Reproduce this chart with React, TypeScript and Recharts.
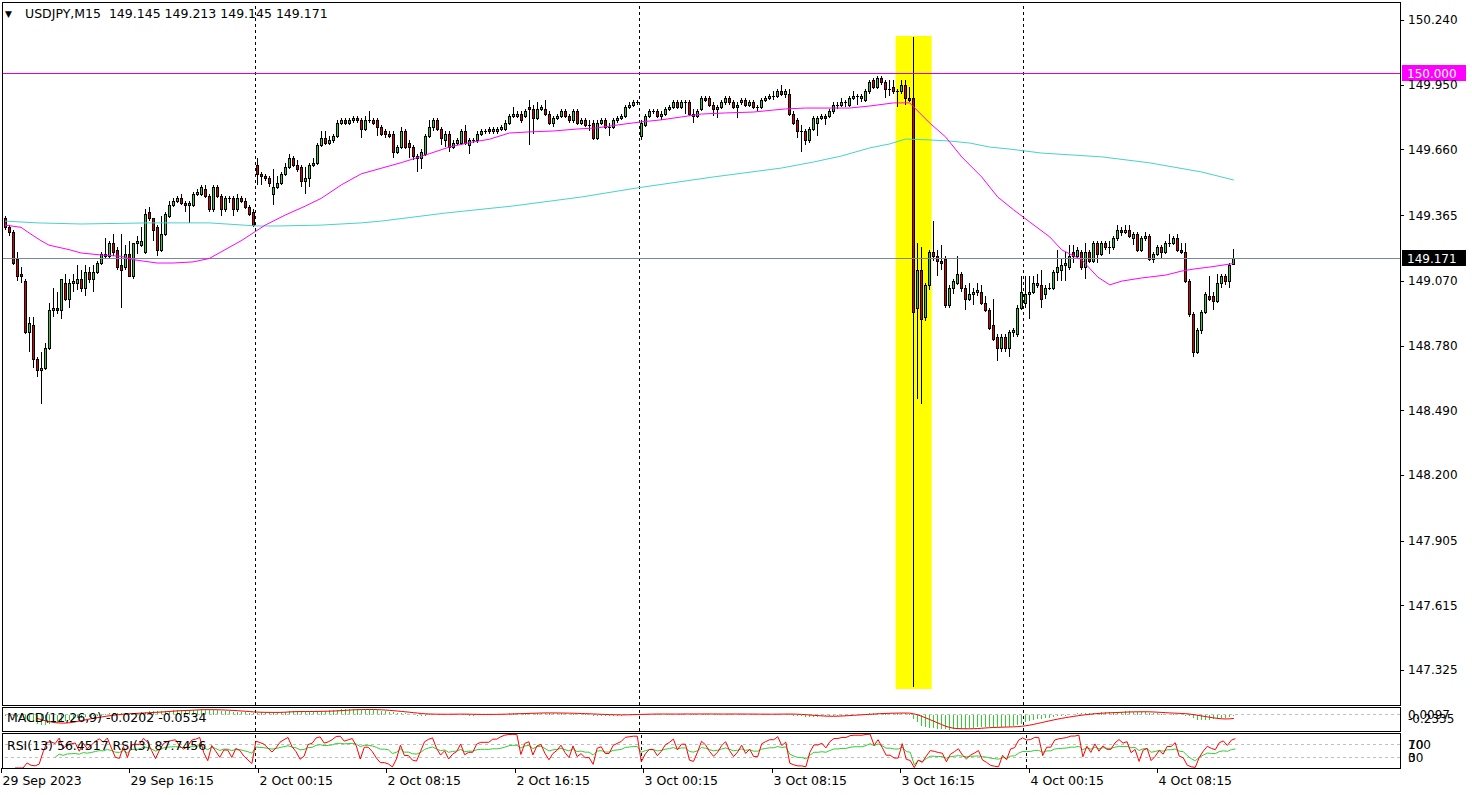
import React from 'react';
import { ComposedChart, Bar, Line, XAxis, YAxis, ReferenceLine, ReferenceArea } from 'recharts';

// USDJPY M15 candles (bar 0 = 29 Sep 08:15)
const opens = [
  149.35, 149.31, 149.29, 149.17, 149.10, 149.07, 148.84, 148.87, 148.72, 148.67,
  148.68, 148.77, 148.94, 148.95, 148.94, 149.06, 148.99, 149.06, 149.06, 149.08,
  149.04, 149.11, 149.08, 149.11, 149.15, 149.19, 149.18, 149.24, 149.21, 149.14,
  149.13, 149.19, 149.09, 149.24, 149.23, 149.20, 149.38, 149.35, 149.31, 149.21,
  149.28, 149.36, 149.41, 149.43, 149.44, 149.42, 149.41, 149.41, 149.46, 149.46,
  149.48, 149.45, 149.39, 149.49, 149.45, 149.39, 149.44, 149.44, 149.39, 149.44,
  149.43, 149.40, 149.38, 149.59, 149.55, 149.54, 149.53, 149.46, 149.49, 149.51,
  149.55, 149.58, 149.62, 149.59, 149.58, 149.52, 149.53, 149.59, 149.60, 149.68,
  149.71, 149.69, 149.70, 149.72, 149.78, 149.79, 149.78, 149.79, 149.80, 149.79,
  149.75, 149.79, 149.79, 149.79, 149.76, 149.74, 149.73, 149.73, 149.65, 149.67,
  149.74, 149.69, 149.67, 149.63, 149.62, 149.64, 149.72, 149.76, 149.79, 149.75,
  149.70, 149.73, 149.67, 149.69, 149.69, 149.74, 149.68, 149.70, 149.70, 149.73,
  149.74, 149.75, 149.74, 149.74, 149.75, 149.75, 149.78, 149.81, 149.81, 149.82,
  149.81, 149.85, 149.84, 149.80, 149.84, 149.84, 149.82, 149.78, 149.80, 149.81,
  149.83, 149.81, 149.79, 149.83, 149.78, 149.79, 149.77, 149.78, 149.71, 149.78,
  149.79, 149.76, 149.76, 149.79, 149.80, 149.81, 149.85, 149.86, 149.87, 149.72,
  149.77, 149.81, 149.83, 149.83, 149.81, 149.82, 149.84, 149.85, 149.87, 149.85,
  149.87, 149.87, 149.82, 149.81, 149.84, 149.89, 149.89, 149.86, 149.84, 149.85,
  149.87, 149.89, 149.87, 149.85, 149.87, 149.88, 149.86, 149.87, 149.85, 149.85,
  149.88, 149.89, 149.90, 149.90, 149.92, 149.91, 149.91, 149.82, 149.79, 149.74,
  149.74, 149.70, 149.75, 149.78, 149.80, 149.81, 149.81, 149.83, 149.86, 149.86,
  149.87, 149.86, 149.89, 149.90, 149.89, 149.88, 149.92, 149.97, 149.94, 149.98,
  149.96, 149.93, 149.94, 149.92, 149.92, 149.95, 149.89, 149.89, 148.95, 149.12,
  148.91, 149.05, 149.20, 149.18, 149.16, 149.17, 148.96, 149.04, 149.06, 149.10,
  149.04, 148.99, 149.01, 149.02, 149.02, 148.97, 148.94, 148.87, 148.82, 148.77,
  148.82, 148.77, 148.84, 148.83, 148.95, 148.97, 149.01, 149.02, 149.05, 149.05,
  149.01, 149.04, 149.04, 149.11, 149.12, 149.14, 149.13, 149.20, 149.18, 149.20,
  149.13, 149.20, 149.16, 149.24, 149.19, 149.24, 149.22, 149.22, 149.26, 149.30,
  149.29, 149.30, 149.26, 149.28, 149.21, 149.26, 149.27, 149.17, 149.19, 149.22,
  149.20, 149.24, 149.24, 149.26, 149.21, 149.20, 149.07, 148.92, 148.75, 148.85,
  148.93, 149.00, 149.00, 148.98, 149.06, 149.09, 149.07, 149.145,
];

const highs = [
  149.36, 149.32, 149.30, 149.20, 149.13, 149.08, 148.91, 148.91, 148.73, 148.75,
  148.79, 148.97, 149.04, 149.02, 149.08, 149.10, 149.08, 149.10, 149.14, 149.12,
  149.14, 149.13, 149.14, 149.16, 149.20, 149.26, 149.25, 149.28, 149.22, 149.28,
  149.23, 149.25, 149.24, 149.27, 149.31, 149.39, 149.40, 149.35, 149.32, 149.36,
  149.38, 149.43, 149.44, 149.45, 149.46, 149.43, 149.43, 149.47, 149.48, 149.50,
  149.50, 149.46, 149.50, 149.50, 149.46, 149.45, 149.45, 149.45, 149.46, 149.45,
  149.44, 149.41, 149.39, 149.62, 149.56, 149.55, 149.54, 149.57, 149.54, 149.56,
  149.60, 149.64, 149.63, 149.61, 149.59, 149.58, 149.60, 149.62, 149.69, 149.74,
  149.74, 149.72, 149.73, 149.79, 149.80, 149.80, 149.80, 149.81, 149.81, 149.80,
  149.81, 149.83, 149.80, 149.80, 149.77, 149.75, 149.74, 149.74, 149.68, 149.76,
  149.75, 149.70, 149.68, 149.64, 149.66, 149.73, 149.79, 149.80, 149.80, 149.76,
  149.74, 149.74, 149.70, 149.71, 149.75, 149.77, 149.71, 149.71, 149.74, 149.75,
  149.75, 149.76, 149.76, 149.76, 149.77, 149.79, 149.82, 149.85, 149.83, 149.83,
  149.84, 149.88, 149.86, 149.87, 149.86, 149.88, 149.83, 149.81, 149.82, 149.84,
  149.84, 149.82, 149.84, 149.84, 149.80, 149.80, 149.79, 149.79, 149.79, 149.80,
  149.80, 149.78, 149.80, 149.81, 149.82, 149.86, 149.87, 149.88, 149.88, 149.79,
  149.82, 149.84, 149.84, 149.84, 149.83, 149.85, 149.86, 149.88, 149.88, 149.88,
  149.88, 149.88, 149.84, 149.84, 149.90, 149.90, 149.90, 149.87, 149.86, 149.88,
  149.90, 149.90, 149.88, 149.87, 149.89, 149.89, 149.88, 149.88, 149.86, 149.89,
  149.90, 149.91, 149.92, 149.93, 149.95, 149.93, 149.93, 149.83, 149.80, 149.77,
  149.75, 149.76, 149.81, 149.81, 149.82, 149.82, 149.84, 149.87, 149.87, 149.89,
  149.88, 149.90, 149.92, 149.91, 149.91, 149.93, 149.97, 149.98, 149.99, 149.99,
  149.97, 149.97, 149.97, 149.93, 149.97, 149.97, 149.94, 150.165, 149.24, 149.22,
  149.06, 149.21, 149.34, 149.21, 149.23, 149.18, 149.05, 149.08, 149.18, 149.11,
  149.05, 149.06, 149.04, 149.06, 149.05, 149.00, 148.95, 148.99, 148.83, 148.83,
  148.83, 148.85, 148.86, 148.96, 149.09, 149.09, 149.09, 149.09, 149.10, 149.12,
  149.05, 149.06, 149.12, 149.21, 149.17, 149.20, 149.23, 149.23, 149.22, 149.21,
  149.24, 149.21, 149.25, 149.25, 149.25, 149.25, 149.25, 149.27, 149.32, 149.31,
  149.32, 149.32, 149.29, 149.29, 149.27, 149.29, 149.28, 149.20, 149.23, 149.23,
  149.25, 149.28, 149.27, 149.28, 149.24, 149.24, 149.08, 148.93, 148.86, 148.94,
  149.02, 149.09, 149.02, 149.10, 149.10, 149.10, 149.15, 149.213,
];

const lows = [
  149.30, 149.27, 149.14, 149.07, 149.06, 148.83, 148.75, 148.68, 148.64, 148.52,
  148.67, 148.76, 148.91, 148.92, 148.90, 148.98, 148.95, 149.02, 149.03, 149.02,
  149.00, 149.06, 149.02, 149.10, 149.14, 149.17, 149.17, 149.18, 149.12, 148.95,
  149.12, 149.09, 149.08, 149.19, 149.22, 149.19, 149.34, 149.25, 149.18, 149.20,
  149.27, 149.35, 149.40, 149.42, 149.41, 149.38, 149.33, 149.40, 149.45, 149.45,
  149.44, 149.38, 149.38, 149.44, 149.36, 149.38, 149.42, 149.36, 149.38, 149.42,
  149.39, 149.36, 149.31, 149.50, 149.50, 149.52, 149.49, 149.41, 149.48, 149.50,
  149.54, 149.57, 149.58, 149.56, 149.49, 149.46, 149.49, 149.58, 149.59, 149.67,
  149.68, 149.68, 149.69, 149.71, 149.77, 149.77, 149.77, 149.78, 149.78, 149.71,
  149.74, 149.78, 149.77, 149.72, 149.72, 149.71, 149.71, 149.62, 149.64, 149.66,
  149.66, 149.62, 149.61, 149.56, 149.57, 149.63, 149.71, 149.74, 149.74, 149.68,
  149.67, 149.65, 149.66, 149.68, 149.68, 149.68, 149.64, 149.69, 149.69, 149.72,
  149.73, 149.73, 149.73, 149.73, 149.74, 149.74, 149.77, 149.80, 149.80, 149.78,
  149.80, 149.68, 149.73, 149.79, 149.83, 149.81, 149.77, 149.76, 149.79, 149.80,
  149.80, 149.78, 149.78, 149.77, 149.77, 149.76, 149.74, 149.70, 149.70, 149.77,
  149.75, 149.72, 149.75, 149.78, 149.79, 149.80, 149.84, 149.85, 149.86, 149.70,
  149.76, 149.80, 149.82, 149.80, 149.79, 149.81, 149.83, 149.84, 149.84, 149.84,
  149.82, 149.81, 149.78, 149.80, 149.83, 149.87, 149.85, 149.81, 149.80, 149.84,
  149.86, 149.86, 149.84, 149.80, 149.86, 149.85, 149.85, 149.84, 149.83, 149.84,
  149.87, 149.88, 149.88, 149.89, 149.90, 149.89, 149.81, 149.77, 149.71, 149.65,
  149.68, 149.69, 149.74, 149.72, 149.79, 149.77, 149.80, 149.82, 149.84, 149.85,
  149.85, 149.85, 149.88, 149.86, 149.87, 149.87, 149.91, 149.93, 149.93, 149.95,
  149.89, 149.90, 149.91, 149.85, 149.91, 149.86, 149.87, 147.25, 148.54, 148.52,
  148.89, 149.03, 149.16, 149.09, 149.12, 148.95, 148.95, 149.01, 149.05, 149.02,
  148.94, 148.98, 148.96, 149.00, 148.96, 148.93, 148.85, 148.80, 148.71, 148.75,
  148.75, 148.73, 148.82, 148.82, 148.94, 148.95, 148.90, 149.01, 149.04, 148.95,
  148.99, 149.03, 149.03, 149.07, 149.07, 149.07, 149.12, 149.15, 149.17, 149.12,
  149.08, 149.15, 149.15, 149.15, 149.18, 149.21, 149.19, 149.21, 149.25, 149.27,
  149.28, 149.26, 149.23, 149.20, 149.20, 149.25, 149.16, 149.15, 149.18, 149.17,
  149.19, 149.22, 149.23, 149.20, 149.19, 149.06, 148.91, 148.73, 148.74, 148.83,
  148.92, 148.98, 148.94, 148.97, 149.04, 149.05, 149.04, 149.145,
];

const closes = [
  149.31, 149.29, 149.15, 149.09, 149.09, 148.84, 148.88, 148.72, 148.67, 148.68,
  148.77, 148.94, 148.95, 148.94, 149.08, 148.99, 149.06, 149.07, 149.08, 149.04,
  149.11, 149.08, 149.11, 149.15, 149.19, 149.18, 149.24, 149.20, 149.13, 149.12,
  149.19, 149.09, 149.24, 149.25, 149.25, 149.37, 149.35, 149.30, 149.21, 149.28,
  149.37, 149.41, 149.43, 149.44, 149.42, 149.41, 149.42, 149.46, 149.47, 149.49,
  149.45, 149.39, 149.49, 149.45, 149.39, 149.44, 149.44, 149.39, 149.44, 149.43,
  149.40, 149.37, 149.32, 149.55, 149.54, 149.53, 149.51, 149.49, 149.51, 149.55,
  149.58, 149.62, 149.59, 149.57, 149.52, 149.53, 149.59, 149.60, 149.68, 149.71,
  149.69, 149.70, 149.72, 149.78, 149.79, 149.78, 149.79, 149.80, 149.79, 149.75,
  149.79, 149.79, 149.78, 149.76, 149.73, 149.73, 149.72, 149.65, 149.67, 149.74,
  149.67, 149.67, 149.63, 149.62, 149.65, 149.72, 149.76, 149.79, 149.75, 149.71,
  149.73, 149.67, 149.69, 149.70, 149.74, 149.69, 149.70, 149.70, 149.73, 149.74,
  149.74, 149.74, 149.75, 149.75, 149.76, 149.78, 149.81, 149.82, 149.82, 149.79,
  149.83, 149.84, 149.80, 149.84, 149.85, 149.82, 149.78, 149.80, 149.81, 149.83,
  149.81, 149.79, 149.83, 149.78, 149.79, 149.77, 149.77, 149.71, 149.78, 149.79,
  149.76, 149.76, 149.79, 149.80, 149.81, 149.85, 149.86, 149.87, 149.87, 149.78,
  149.81, 149.83, 149.83, 149.81, 149.82, 149.84, 149.85, 149.87, 149.85, 149.87,
  149.87, 149.82, 149.81, 149.83, 149.89, 149.88, 149.86, 149.84, 149.85, 149.87,
  149.89, 149.87, 149.85, 149.86, 149.88, 149.86, 149.87, 149.85, 149.85, 149.88,
  149.89, 149.90, 149.90, 149.92, 149.91, 149.92, 149.82, 149.78, 149.74, 149.74,
  149.70, 149.75, 149.80, 149.80, 149.81, 149.80, 149.83, 149.86, 149.86, 149.87,
  149.87, 149.89, 149.90, 149.90, 149.90, 149.92, 149.96, 149.94, 149.98, 149.96,
  149.93, 149.93, 149.92, 149.92, 149.95, 149.89, 149.88, 148.93, 149.12, 148.90,
  149.05, 149.20, 149.18, 149.16, 149.15, 148.96, 149.04, 149.07, 149.10, 149.04,
  148.99, 149.01, 149.02, 149.03, 148.97, 148.94, 148.86, 148.81, 148.77, 148.82,
  148.77, 148.84, 148.85, 148.95, 149.02, 149.01, 149.02, 149.06, 149.06, 148.99,
  149.04, 149.04, 149.11, 149.13, 149.14, 149.15, 149.18, 149.18, 149.21, 149.13,
  149.20, 149.16, 149.24, 149.19, 149.24, 149.22, 149.22, 149.26, 149.30, 149.29,
  149.30, 149.27, 149.28, 149.21, 149.26, 149.27, 149.17, 149.19, 149.22, 149.20,
  149.24, 149.24, 149.26, 149.21, 149.20, 149.07, 148.92, 148.75, 148.85, 148.93,
  149.01, 148.99, 148.98, 149.06, 149.09, 149.07, 149.14, 149.171,
];

// moving averages as drawn on the chart: [bar, price]
const maFastPts: [number, number][] = [
  [0, 149.32], [4, 149.31], [6, 149.285], [9, 149.25], [11, 149.23], [16, 149.21], [19, 149.195],
  [24, 149.186], [29, 149.18], [32, 149.165], [38, 149.15], [42, 149.15], [47, 149.155], [51, 149.17],
  [59, 149.25], [65, 149.32], [70, 149.365], [75, 149.405], [79, 149.44], [84, 149.5], [89, 149.55],
  [94, 149.575], [99, 149.6], [102, 149.617], [106, 149.64], [111, 149.67], [116, 149.69], [121, 149.705],
  [126, 149.733], [131, 149.738], [137, 149.742], [143, 149.751], [148, 149.756], [153, 149.769],
  [159, 149.783], [164, 149.792], [169, 149.805], [174, 149.818], [180, 149.823], [187, 149.827],
  [192, 149.836], [195, 149.841], [200, 149.845], [211, 149.845], [216, 149.854], [222, 149.868],
  [226, 149.868], [227, 149.85], [231, 149.778], [235, 149.715], [239, 149.626], [244, 149.536],
  [248, 149.446], [252, 149.388], [256, 149.334], [261, 149.267], [264, 149.209], [269, 149.164],
  [273, 149.087], [276, 149.052], [279, 149.069], [284, 149.083], [290, 149.096], [294, 149.114],
  [297, 149.123], [301, 149.132], [307, 149.148],
];

const maSlowPts: [number, number][] = [
  [0, 149.338], [8, 149.33], [19, 149.325], [36, 149.33], [51, 149.33], [63, 149.316], [68, 149.316],
  [79, 149.32], [89, 149.33], [94, 149.338], [110, 149.374], [127, 149.406], [144, 149.446],
  [158, 149.487], [177, 149.536], [194, 149.576], [202, 149.603], [209, 149.63], [216, 149.666],
  [221, 149.684], [225, 149.706], [231, 149.702], [236, 149.697], [241, 149.688], [246, 149.67],
  [251, 149.661], [259, 149.643], [274, 149.626], [286, 149.599], [299, 149.558], [307, 149.522],
];

const tickBars = [0, 32, 64, 96, 128, 160, 192, 224, 256, 288];
const tickLabels = [
  '29 Sep 2023', '29 Sep 16:15', '2 Oct 00:15', '2 Oct 08:15', '2 Oct 16:15',
  '3 Oct 00:15', '3 Oct 08:15', '3 Oct 16:15', '4 Oct 00:15', '4 Oct 08:15',
];
const daySeparators = [63, 159, 255];
const priceTicks = [150.24, 149.95, 149.66, 149.365, 149.07, 148.78, 148.49, 148.2, 147.905, 147.615, 147.325];
const roundLevel = 150.0;
const bidPrice = 149.171;
const highlightBars = [223, 231];
const highlightPrices = [147.24, 150.168];

const FONT = '"DejaVu Sans", Verdana, sans-serif';
const GREEN = '#32cd32';
const RED = '#e00000';
const W = 1472;
const AXIS_W = 72;
const SLOTS = 349;

// indicators (MACD 12/26/9, RSI 13 and 3) from the closes
const emaOf = (src: number[], p: number) => {
  const k = 2 / (p + 1);
  const out: number[] = [];
  src.forEach((v, i) => out.push(i === 0 ? v : v * k + out[i - 1] * (1 - k)));
  return out;
};
const ema12 = emaOf(closes, 12);
const ema26 = emaOf(closes, 26);
const macd = closes.map((_, i) => ema12[i] - ema26[i]);
const signal = macd.map((_, i) => (i < 8 ? null : macd.slice(i - 8, i + 1).reduce((a, b) => a + b, 0) / 9));

const rsiOf = (src: number[], p: number) => {
  const out: (number | null)[] = src.map(() => null);
  let g = 0;
  let l = 0;
  for (let i = 1; i < src.length; i++) {
    const d = src[i] - src[i - 1];
    const up = Math.max(d, 0);
    const dn = Math.max(-d, 0);
    if (i <= p) {
      g += up / p;
      l += dn / p;
      if (i < p) continue;
    } else {
      g = (g * (p - 1) + up) / p;
      l = (l * (p - 1) + dn) / p;
    }
    out[i] = l === 0 ? 100 : 100 - 100 / (1 + g / l);
  }
  return out;
};
const rsi13 = rsiOf(closes, 13);
const rsi3 = rsiOf(closes, 3);

const fastMap = new Map(maFastPts);
const slowMap = new Map(maSlowPts);

const data = Array.from({ length: SLOTS }, (_, i) => {
  if (i >= closes.length) return { i };
  return {
    i,
    o: opens[i],
    h: highs[i],
    l: lows[i],
    c: closes[i],
    maF: fastMap.get(i) ?? null,
    maS: slowMap.get(i) ?? null,
    macd: macd[i],
    sig: signal[i],
    rsi13: rsi13[i],
    rsi3: rsi3[i],
  };
});

const Candle = (props: any) => {
  const { x, y, width, height, payload } = props;
  if (!payload || payload.o == null) return null;
  const top = Math.min(y, y + height);
  const bot = Math.max(y, y + height);
  const span = payload.h - payload.l;
  const py = (v: number) => Math.round(top + ((payload.h - v) / span) * (bot - top));
  const x0 = Math.round(x + width / 2 - 1.5);
  const yo = py(payload.o);
  const yc = py(payload.c);
  const bTop = Math.min(yo, yc);
  const bH = Math.abs(yc - yo);
  const up = payload.c >= payload.o;
  return (
    <g shapeRendering="crispEdges">
      <rect x={x0 + 1} y={Math.round(top)} width={1} height={Math.max(1, Math.round(bot) - Math.round(top))} fill="#000" />
      <rect x={x0} y={bTop} width={3} height={bH + 1} fill="#000" />
      {bH > 1 && <rect x={x0 + 1} y={bTop + 1} width={1} height={bH - 1} fill={up ? GREEN : RED} />}
    </g>
  );
};

const HistBar = (props: any) => {
  const { x, y, width, height } = props;
  if (y == null || height == null || isNaN(y)) return null;
  const top = Math.min(y, y + height);
  const h = Math.max(1, Math.round(Math.abs(height)));
  return <rect x={Math.round(x + width / 2 - 0.5)} y={Math.round(top)} width={1} height={h} fill={GREEN} shapeRendering="crispEdges" />;
};

const PriceTick = (props: any) => {
  const { x, y, payload } = props;
  const yy = Math.round(y) + 0.5;
  return (
    <g>
      <line x1={x} x2={x + 4} y1={yy} y2={yy} stroke="#000" shapeRendering="crispEdges" />
      <text x={x + 8} y={y + 4.5} fontSize={12} fontFamily={FONT} fill="#000">{payload.value.toFixed(3)}</text>
    </g>
  );
};

const PriceBox = (props: any) => {
  const { viewBox, text, bg } = props;
  if (!viewBox) return null;
  const x = viewBox.x + viewBox.width + 2;
  const y = viewBox.y;
  return (
    <g>
      <rect x={x} y={Math.round(y) - 8} width={64} height={16} fill={bg} />
      <text x={x + 5} y={y + 4.5} fontSize={12} fontFamily={FONT} fill="#fff">{text}</text>
    </g>
  );
};

const TimeTick = (props: any) => {
  const { x, y, payload } = props;
  const k = tickBars.indexOf(payload.value);
  if (k < 0) return <g />;
  const tx = Math.round(x - 2) + 0.5;
  return (
    <g>
      <line x1={tx} x2={tx} y1={y} y2={y + 5} stroke="#000" shapeRendering="crispEdges" />
      <text x={tx + 1} y={y + 17} fontSize={12.5} fontFamily={FONT} fill="#000">{tickLabels[k]}</text>
    </g>
  );
};

// two indicator scale labels printed almost on top of each other, as the terminal does
const PairTick = (labels: Record<number, [string, string]>, dy: number) => (props: any) => {
  const { x, y, payload } = props;
  const pair = labels[payload.value];
  if (!pair) return <g />;
  return (
    <g fontSize={12} fontFamily={FONT} fill="#000">
      <text x={x + 8} y={y + 4.5}>{pair[0]}</text>
      <text x={x + 8} y={y + 4.5 + dy}>{pair[1]}</text>
    </g>
  );
};

const separators = (key: string) =>
  daySeparators.map((b) => (
    <ReferenceLine key={key + b} x={b} position="start" stroke="#000" strokeDasharray="3 3" shapeRendering="crispEdges" />
  ));

const frame = (top: number, height: number) => ({
  position: 'absolute' as const,
  left: 2,
  top,
  width: 1399,
  height,
  border: '1px solid #000',
  boxSizing: 'border-box' as const,
  pointerEvents: 'none' as const,
});

const label = (top: number, left: number, size: number): React.CSSProperties => ({
  position: 'absolute',
  top,
  left,
  fontFamily: FONT,
  fontSize: size,
  lineHeight: '14px',
  whiteSpace: 'pre',
  color: '#000',
});

export default function App() {
  return (
    <div style={{ position: 'relative', width: W, height: 795, background: '#fff', overflow: 'hidden' }}>
      <style>{'body{margin:0}'}</style>

      <div style={{ position: 'absolute', left: 0, top: 0 }}>
        <ComposedChart width={W} height={708} data={data} margin={{ top: 3, right: 0, bottom: 3, left: 3 }} barCategoryGap={0} barGap={0}>
          <XAxis dataKey="i" type="category" hide />
          <YAxis
            orientation="right"
            width={AXIS_W}
            domain={[147.168, 150.316]}
            allowDataOverflow
            ticks={priceTicks}
            interval={0}
            axisLine={false}
            tickLine={false}
            tickSize={0}
            tickMargin={0}
            tick={<PriceTick />}
          />
          <ReferenceArea
            x1={highlightBars[0]}
            x2={highlightBars[1]}
            y1={highlightPrices[0]}
            y2={highlightPrices[1]}
            fill="#ffff00"
            fillOpacity={1}
            stroke="none"
            zIndex={-1}
          />
          {separators('m')}
          <ReferenceLine y={roundLevel} stroke="#e000e0" shapeRendering="crispEdges" label={<PriceBox text="150.000" bg="#ff00ff" />} />
          <ReferenceLine y={bidPrice} stroke="#778899" shapeRendering="crispEdges" label={<PriceBox text="149.171" bg="#000" />} />
          <Bar dataKey={(d: any) => (d.o == null ? null : [d.l, d.h])} shape={<Candle />} isAnimationActive={false} />
          <Line dataKey="maS" stroke="#48d1cc" strokeWidth={1} dot={false} activeDot={false} connectNulls isAnimationActive={false} />
          <Line dataKey="maF" stroke="#ff00ff" strokeWidth={1} dot={false} activeDot={false} connectNulls isAnimationActive={false} />
        </ComposedChart>
      </div>

      <div style={{ position: 'absolute', left: 0, top: 707 }}>
        <ComposedChart width={W} height={25} data={data} margin={{ top: 1, right: 0, bottom: 1, left: 3 }} barCategoryGap={0} barGap={0}>
          <XAxis dataKey="i" type="category" hide />
          <YAxis
            orientation="right"
            width={AXIS_W}
            domain={[-0.245, 0.105]}
            allowDataOverflow
            ticks={[0]}
            interval={0}
            axisLine={false}
            tickLine={false}
            tickSize={0}
            tickMargin={0}
            tick={PairTick({ 0: ['0.0097', '-0.2335'] }, 4)}
          />
          <ReferenceLine y={0} stroke="#c0c0c0" strokeDasharray="3 3" shapeRendering="crispEdges" />
          {separators('d')}
          <Bar dataKey="macd" shape={<HistBar />} isAnimationActive={false} />
          <Line dataKey="sig" stroke="#ff0000" strokeWidth={1} dot={false} activeDot={false} isAnimationActive={false} />
        </ComposedChart>
      </div>

      <div style={{ position: 'absolute', left: 0, top: 733 }}>
        <ComposedChart width={W} height={62} data={data} margin={{ top: 1, right: 0, bottom: 0, left: 3 }}>
          <XAxis
            dataKey="i"
            type="category"
            height={27}
            interval={0}
            axisLine={false}
            tickLine={false}
            tickSize={0}
            tickMargin={0}
            tick={<TimeTick />}
          />
          <YAxis
            orientation="right"
            width={AXIS_W}
            domain={[0, 100]}
            allowDataOverflow
            ticks={[70, 30]}
            interval={0}
            axisLine={false}
            tickLine={false}
            tickSize={0}
            tickMargin={0}
            tick={PairTick({ 70: ['100', '70'], 30: ['30', '0'] }, 0)}
          />
          <ReferenceLine y={70} stroke="#c0c0c0" strokeDasharray="3 3" shapeRendering="crispEdges" />
          <ReferenceLine y={30} stroke="#c0c0c0" strokeDasharray="3 3" shapeRendering="crispEdges" />
          {separators('r')}
          <Line dataKey="rsi13" stroke={GREEN} strokeWidth={1} dot={false} activeDot={false} isAnimationActive={false} />
          <Line dataKey="rsi3" stroke="#ff0000" strokeWidth={1} dot={false} activeDot={false} isAnimationActive={false} />
        </ComposedChart>
      </div>

      <div style={frame(2, 704)} />
      <div style={frame(707, 25)} />
      <div style={frame(733, 36)} />

      <div style={label(7, 5, 9)}>▼</div>
      <div style={label(7, 25, 12.5)}>{'USDJPY,M15  149.145 149.213 149.145 149.171'}</div>
      <div style={label(711, 7, 12.5)}>{'MACD(12,26,9) -0.0202 -0.0534'}</div>
      <div style={label(739, 7, 12.5)}>{'RSI(13) 56.4517 RSI(3) 87.7456'}</div>
    </div>
  );
}
